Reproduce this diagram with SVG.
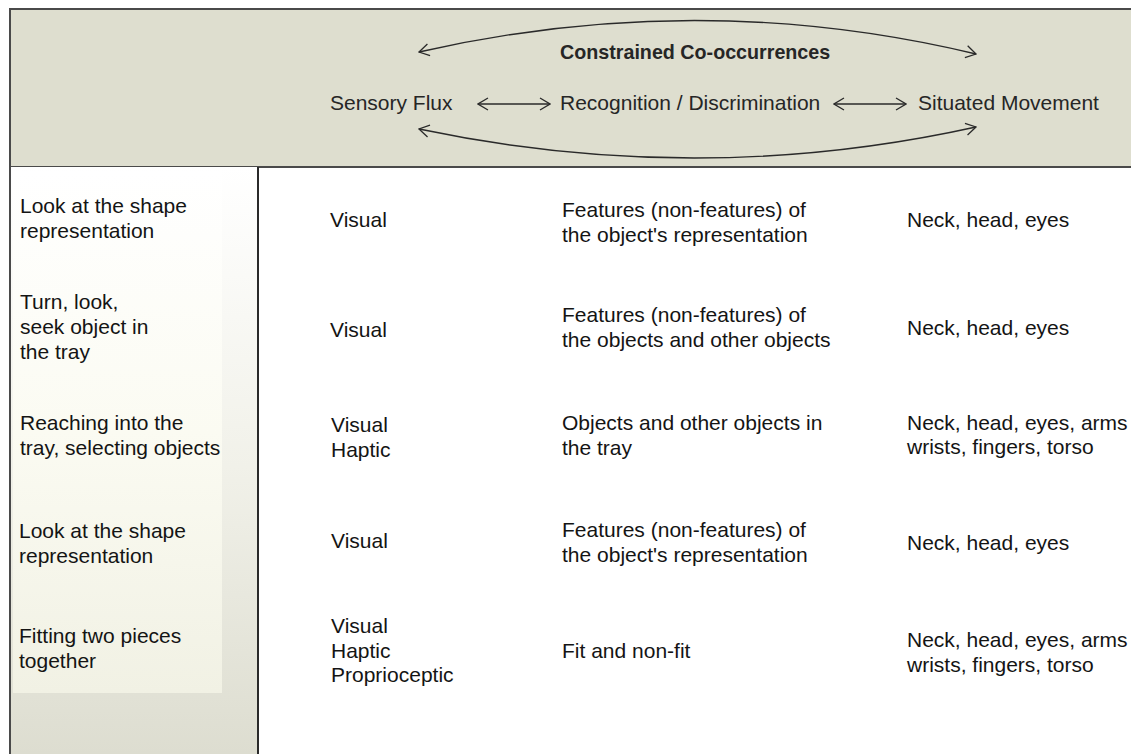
<svg xmlns="http://www.w3.org/2000/svg" width="1131" height="754" viewBox="0 0 1131 754">
<style>
  text { font-family: "Liberation Sans", Arial, sans-serif; font-size: 21px; fill: #141414; }
  .hd { fill: #262626; }
  .bold { font-weight: bold; font-size: 19.7px; }
  .conn { fill: none; stroke: #2a2a2a; stroke-width: 1.4; }
</style>
<defs>
  <marker id="chev" viewBox="0 0 12 14" refX="11" refY="7" markerWidth="12" markerHeight="14" markerUnits="userSpaceOnUse" orient="auto-start-reverse">
    <path d="M1,1 L11,7 L1,13" fill="none" stroke="#2a2a2a" stroke-width="1.3"/>
  </marker>
  <linearGradient id="leftOuter" x1="0" y1="0" x2="0" y2="1">
    <stop offset="0" stop-color="#ffffff"/>
    <stop offset="0.5" stop-color="#f1f1e9"/>
    <stop offset="1" stop-color="#dcdccf"/>
  </linearGradient>
  <linearGradient id="leftInner" x1="0" y1="0" x2="0" y2="1">
    <stop offset="0" stop-color="#ffffff"/>
    <stop offset="0.5" stop-color="#fbfbf2"/>
    <stop offset="1" stop-color="#f1f1e4"/>
  </linearGradient>
</defs>

<rect x="0" y="0" width="1131" height="754" fill="#ffffff"/>

<g id="header">
  <rect x="10" y="9" width="1130" height="158" fill="#dedecf" stroke="#4a4a4a" stroke-width="2"/>
  <text class="hd bold" x="560" y="59">Constrained Co-occurrences</text>
  <text class="hd" x="330" y="110">Sensory Flux</text>
  <text class="hd" x="560" y="110">Recognition / Discrimination</text>
  <text class="hd" x="918" y="110">Situated Movement</text>
</g>

<g id="connectors">
  <line class="conn" x1="478" y1="104" x2="550" y2="104" marker-start="url(#chev)" marker-end="url(#chev)"/>
  <line class="conn" x1="834" y1="104" x2="906" y2="104" marker-start="url(#chev)" marker-end="url(#chev)"/>
  <path class="conn" d="M419,52 Q700,-12 976,54" marker-start="url(#chev)" marker-end="url(#chev)"/>
  <path class="conn" d="M419,129 Q700,188 976,127" marker-start="url(#chev)" marker-end="url(#chev)"/>
</g>

<g id="left-panel">
  <rect x="10" y="167" width="248" height="600" fill="url(#leftOuter)"/>
  <rect x="13" y="172" width="209" height="521" fill="url(#leftInner)"/>
  <line x1="10" y1="167" x2="10" y2="754" stroke="#4a4a4a" stroke-width="2"/>
  <line x1="258" y1="167" x2="258" y2="754" stroke="#2a2a2a" stroke-width="2"/>
</g>

<g id="row1">
  <text x="20" y="213">Look at the shape</text>
  <text x="20" y="238">representation</text>
  <text x="330" y="227">Visual</text>
  <text x="562" y="217">Features (non-features) of</text>
  <text x="562" y="242">the object's representation</text>
  <text x="907" y="227">Neck, head, eyes</text>
</g>

<g id="row2">
  <text x="20" y="309">Turn, look,</text>
  <text x="20" y="334">seek object in</text>
  <text x="20" y="359">the tray</text>
  <text x="330" y="337">Visual</text>
  <text x="562" y="322">Features (non-features) of</text>
  <text x="562" y="347">the objects and other objects</text>
  <text x="907" y="335">Neck, head, eyes</text>
</g>

<g id="row3">
  <text x="20" y="430">Reaching into the</text>
  <text x="20" y="455">tray, selecting objects</text>
  <text x="331" y="432">Visual</text>
  <text x="331" y="457">Haptic</text>
  <text x="562" y="430">Objects and other objects in</text>
  <text x="562" y="455">the tray</text>
  <text x="907" y="430">Neck, head, eyes, arms</text>
  <text x="907" y="454">wrists, fingers, torso</text>
</g>

<g id="row4">
  <text x="19" y="538">Look at the shape</text>
  <text x="19" y="563">representation</text>
  <text x="331" y="548">Visual</text>
  <text x="562" y="537">Features (non-features) of</text>
  <text x="562" y="562">the object's representation</text>
  <text x="907" y="550">Neck, head, eyes</text>
</g>

<g id="row5">
  <text x="19" y="643">Fitting two pieces</text>
  <text x="19" y="668">together</text>
  <text x="331" y="633">Visual</text>
  <text x="331" y="658">Haptic</text>
  <text x="331" y="682">Proprioceptic</text>
  <text x="562" y="658">Fit and non-fit</text>
  <text x="907" y="647">Neck, head, eyes, arms</text>
  <text x="907" y="672">wrists, fingers, torso</text>
</g>
</svg>
